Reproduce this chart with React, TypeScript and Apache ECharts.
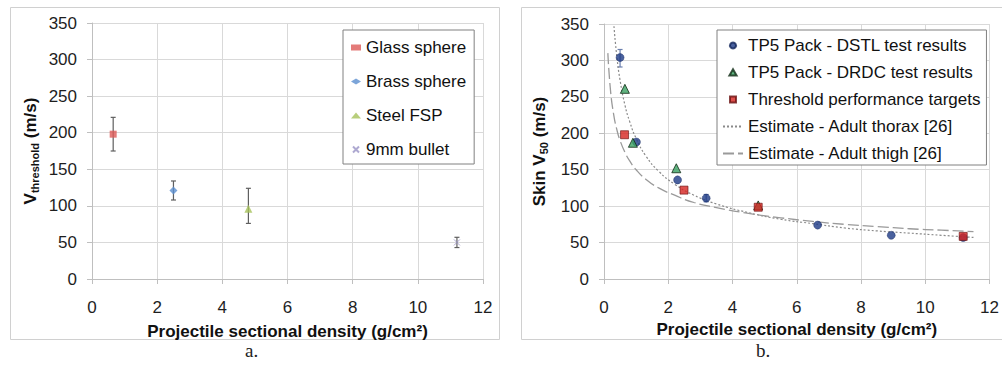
import React, { useEffect, useRef } from "react";
import * as echarts from "echarts";

// ---------- Panel a data ----------
const aNames = ["Glass sphere", "Brass sphere", "Steel FSP", "9mm bullet"];
const aDensity = [0.65, 2.5, 4.8, 11.2];
const aVthreshold = [198, 121, 96, 50];
const aErrLow = [175, 108, 76, 43];
const aErrHigh = [221, 134, 124, 57];

// ---------- Panel b data ----------
const bNames = [
  "TP5 Pack - DSTL test results",
  "TP5 Pack - DRDC test results",
  "Threshold performance targets",
  "Estimate - Adult thorax [26]",
  "Estimate - Adult thigh [26]",
];
const dstlDensity = [0.5, 1.01, 2.29, 3.18, 6.65, 8.94, 11.18];
const dstlV50 = [304, 188, 136, 111, 74, 60, 57];
const dstlErrDensity = [0.5, 3.18];
const dstlErrLow = [291, 106];
const dstlErrHigh = [315, 116];
const drdcDensity = [0.65, 0.9, 2.25, 4.8];
const drdcV50 = [261, 187, 152, 101];
const targetDensity = [0.64, 2.49, 4.8, 11.18];
const targetV50 = [198, 122, 98.5, 58.5];
const thoraxDensity = [0.31, 0.4, 0.5, 0.65, 0.8, 1.0, 1.3, 1.7, 2.2, 2.8, 3.5, 4.5, 5.5, 6.5, 7.5, 8.5, 9.5, 10.5, 11.5];
const thoraxV50 = [347, 305, 273, 239, 216, 193, 169, 148, 130, 115, 103, 91, 82, 76, 70, 66, 63, 60, 57];
const thighDensity = [0.12, 0.2, 0.3, 0.4, 0.5, 0.65, 0.8, 1.0, 1.3, 1.7, 2.2, 2.8, 3.5, 4.5, 5.5, 6.5, 7.5, 8.5, 9.5, 10.5, 11.5];
const thighV50 = [310, 260, 226, 205, 190, 174, 162, 150, 137, 125, 115, 105, 98, 90, 84, 79, 75, 72, 69, 67, 65];

const xTitle = "Projectile sectional density (g/cm²)";

const FONT = "'Liberation Sans', Arial, Helvetica, sans-serif";
const GRID = "#d9d9d9";
const AXIS = "#bfbfbf";

const pairs = (xs: number[], ys: number[]) => xs.map((x, i) => [x, ys[i]]);
const triples = (xs: number[], lo: number[], hi: number[]) => xs.map((x, i) => [x, lo[i], hi[i]]);

function xAxis(gridIndex: number, nameGap: number) {
  return {
    type: "value",
    gridIndex,
    min: 0,
    max: 12,
    interval: 2,
    name: xTitle,
    nameLocation: "middle",
    nameGap,
    nameTextStyle: { fontFamily: FONT, fontSize: 17, fontWeight: "bold", color: "#111" },
    axisLine: { show: true, onZero: false, lineStyle: { color: AXIS } },
    axisTick: { show: true, length: 5, lineStyle: { color: AXIS } },
    axisLabel: { fontFamily: FONT, fontSize: 17, color: "#1e1e1e", margin: 20 },
    splitLine: { show: true, lineStyle: { color: GRID } },
  };
}

function yAxis(gridIndex: number, name: string, nameGap: number) {
  return {
    type: "value",
    gridIndex,
    min: 0,
    max: 350,
    interval: 50,
    name,
    nameLocation: "middle",
    nameGap,
    nameTextStyle: {
      fontFamily: FONT,
      fontSize: 17,
      fontWeight: "bold",
      color: "#111",
      rich: {
        m: { fontFamily: FONT, fontSize: 17, fontWeight: "bold", color: "#111", lineHeight: 20 },
        s: { fontFamily: FONT, fontSize: 11, fontWeight: "bold", color: "#111", lineHeight: 11, verticalAlign: "bottom" },
      },
    },
    axisLine: { show: true, onZero: false, lineStyle: { color: AXIS } },
    axisTick: { show: true, length: 5, lineStyle: { color: AXIS } },
    axisLabel: { fontFamily: FONT, fontSize: 17, color: "#1e1e1e", margin: 15 },
    splitLine: { show: true, lineStyle: { color: GRID } },
  };
}

function errorBars(xAxisIndex: number, yAxisIndex: number, data: number[][], color: string, lineWidth: number) {
  return {
    type: "custom",
    xAxisIndex,
    yAxisIndex,
    data,
    encode: { x: 0, y: [1, 2] },
    z: 1,
    silent: true,
    renderItem: (_params: any, api: any) => {
      const x = api.value(0);
      const p1 = api.coord([x, api.value(1)]);
      const p2 = api.coord([x, api.value(2)]);
      const w = 2.5;
      const style = { stroke: color, lineWidth };
      return {
        type: "group",
        children: [
          { type: "line", shape: { x1: p1[0], y1: p1[1], x2: p2[0], y2: p2[1] }, style },
          { type: "line", shape: { x1: p1[0] - w, y1: p1[1], x2: p1[0] + w, y2: p1[1] }, style },
          { type: "line", shape: { x1: p2[0] - w, y1: p2[1], x2: p2[0] + w, y2: p2[1] }, style },
        ],
      };
    },
  };
}

const crossPath = "path://M0,0L10,10M10,0L0,10";
const hiddenIcon = { color: "rgba(0,0,0,0)", borderColor: "rgba(0,0,0,0)", borderWidth: 0 };
// legend icons padded to the 20x7 legend item box so that they keep their aspect
const legendCircle = "path://M0,0M20,7M10,0.5A3,3,0,1,1,9.99,0.5Z";
const legendTriangle = "path://M0,0M20,7M10,0.2L13.6,6.6L6.4,6.6Z";
const legendSquare = "path://M0,0M20,7M7,0.5L13,0.5L13,6.5L7,6.5Z";

const option: any = {
  animation: false,
  backgroundColor: "#ffffff",
  textStyle: { fontFamily: FONT },
  graphic: [
    { type: "rect", shape: { x: 10.5, y: 7.5, width: 489, height: 332 }, style: { fill: "none", stroke: "#d0d0d0", lineWidth: 1 }, z: -10 },
    { type: "rect", shape: { x: 521.5, y: 7.5, width: 500, height: 332 }, style: { fill: "none", stroke: "#d0d0d0", lineWidth: 1 }, z: -10 },
    { type: "text", left: 245, top: 341, style: { text: "a.", font: "19px 'Liberation Serif', 'Times New Roman', serif", fill: "#222" } },
    { type: "text", left: 756, top: 341, style: { text: "b.", font: "19px 'Liberation Serif', 'Times New Roman', serif", fill: "#222" } },
  ],
  grid: [
    { left: 92, top: 23, width: 391, height: 256 },
    { left: 604, top: 24, width: 390, height: 255 },
  ],
  xAxis: [xAxis(0, 44), xAxis(1, 39)],
  yAxis: [
    yAxis(0, "{m|V}{s|threshold}{m| (m/s)}", 52),
    yAxis(1, "{m|Skin V}{s|50}{m| (m/s)}", 55),
  ],
  legend: [
    {
      data: aNames,
      orient: "vertical",
      left: 343,
      top: 30,
      itemWidth: 10,
      itemHeight: 6,
      itemGap: 17,
      padding: [9, 8, 6, 8],
      backgroundColor: "#ffffff",
      borderColor: "#808080",
      borderWidth: 1,
      borderRadius: 0,
      textStyle: { fontFamily: FONT, fontSize: 17, color: "#111" },
    },
    {
      data: [
        { name: bNames[0], icon: legendCircle },
        { name: bNames[1], icon: legendTriangle },
        { name: bNames[2], icon: legendSquare },
        { name: bNames[3], itemStyle: hiddenIcon },
        { name: bNames[4], itemStyle: hiddenIcon },
      ],
      orient: "vertical",
      left: 717,
      top: 30,
      itemWidth: 20,
      itemHeight: 7,
      itemGap: 10,
      padding: [7, 6, 3, 5],
      backgroundColor: "#ffffff",
      borderColor: "#808080",
      borderWidth: 1,
      borderRadius: 0,
      textStyle: { fontFamily: FONT, fontSize: 17, color: "#111" },
    },
  ],
  series: [
    // Panel a
    errorBars(0, 0, triples(aDensity, aErrLow, aErrHigh), "#5f5f5f", 1.2),
    {
      name: aNames[0], type: "scatter", xAxisIndex: 0, yAxisIndex: 0, symbol: "rect", symbolSize: 7,
      itemStyle: { color: "#dd5a58" }, data: [[aDensity[0], aVthreshold[0]]], z: 3,
    },
    {
      name: aNames[1], type: "scatter", xAxisIndex: 0, yAxisIndex: 0, symbol: "diamond", symbolSize: 8,
      itemStyle: { color: "#5b8ed0" }, data: [[aDensity[1], aVthreshold[1]]], z: 3,
    },
    {
      name: aNames[2], type: "scatter", xAxisIndex: 0, yAxisIndex: 0, symbol: "triangle", symbolSize: 8,
      itemStyle: { color: "#a6c25a" }, data: [[aDensity[2], aVthreshold[2]]], z: 3,
    },
    {
      name: aNames[3], type: "scatter", xAxisIndex: 0, yAxisIndex: 0, symbol: crossPath, symbolSize: 6,
      itemStyle: { color: "#9a94c6", borderColor: "#9a94c6", borderWidth: 1 }, data: [[aDensity[3], aVthreshold[3]]], z: 3,
    },
    // Panel b
    {
      name: bNames[3], type: "line", xAxisIndex: 1, yAxisIndex: 1, symbol: "none", smooth: true,
      lineStyle: { color: "#8a8a8a", width: 1.2, type: [2, 2] }, itemStyle: { color: "#8a8a8a" },
      data: pairs(thoraxDensity, thoraxV50), z: 2,
    },
    {
      name: bNames[4], type: "line", xAxisIndex: 1, yAxisIndex: 1, symbol: "none", smooth: true,
      lineStyle: { color: "#9a9a9a", width: 1.3, type: [11, 4] }, itemStyle: { color: "#9a9a9a" },
      data: pairs(thighDensity, thighV50), z: 2,
    },
    errorBars(1, 1, triples(dstlErrDensity, dstlErrLow, dstlErrHigh), "#6a7fae", 1.2),
    {
      name: bNames[0], type: "scatter", xAxisIndex: 1, yAxisIndex: 1, symbol: "circle", symbolSize: 8,
      itemStyle: { color: "#1d3a86", borderColor: "#10245a", borderWidth: 0.5 }, data: pairs(dstlDensity, dstlV50), z: 3,
    },
    {
      name: bNames[1], type: "scatter", xAxisIndex: 1, yAxisIndex: 1, symbol: "triangle", symbolSize: 9,
      itemStyle: { color: "#38a060", borderColor: "#0f2a14", borderWidth: 1 }, data: pairs(drdcDensity, drdcV50), z: 4,
    },
    {
      name: bNames[2], type: "scatter", xAxisIndex: 1, yAxisIndex: 1, symbol: "rect", symbolSize: 8,
      itemStyle: { color: "#d62420", borderColor: "#6a1010", borderWidth: 0.8 }, data: pairs(targetDensity, targetV50), z: 5,
    },
  ],
};

export default function App() {
  const ref = useRef<HTMLDivElement>(null);
  useEffect(() => {
    const chart = echarts.init(ref.current as HTMLDivElement, null, { renderer: "svg" });
    chart.setOption(option);
    return () => chart.dispose();
  }, []);
  return (
    <div
      ref={ref}
      style={{ position: "absolute", left: 0, top: 0, width: 1002, height: 367, background: "#ffffff" }}
    />
  );
}
